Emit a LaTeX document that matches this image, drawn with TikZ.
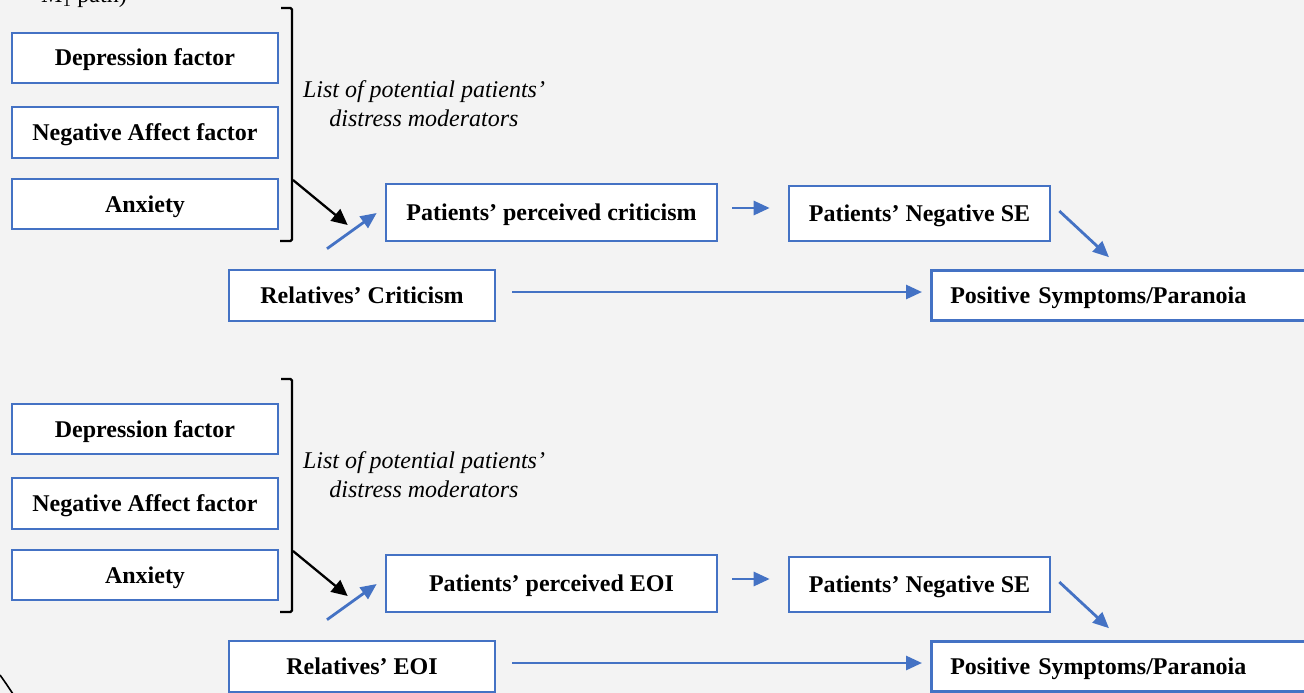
\documentclass[tikz,border=0pt]{standalone}
\usepackage{fontspec}
\setmainfont{Liberation Serif}
\usetikzlibrary{arrows.meta,calc}
\definecolor{pageback}{HTML}{F3F3F3}
\definecolor{boxblue}{HTML}{4472C4}
\begin{document}
\begin{tikzpicture}[x=1pt,y=-1pt,
  box/.style={draw=boxblue, line width=2.6pt, fill=white, inner sep=0pt,
    text height=16pt, text depth=0pt,
    text=black, font=\fontsize{24}{29}\selectfont\bfseries},
  bluearrow/.style={draw=boxblue, line width=2.8pt,
    -{Triangle[length=16pt,width=14pt]}, fill=boxblue},
  blackarrow/.style={draw=black, line width=2.3pt,
    -{Triangle[length=16pt,width=15pt]}},
  bracketline/.style={draw=black, line width=2.2pt, rounded corners=1.5pt},
  note/.style={font=\fontsize{24}{29}\selectfont\itshape, align=center},
]
\fill[pageback] (0,0) rectangle (1304,693);
\useasboundingbox (0,0) rectangle (1304,693);
\clip (0,0) rectangle (1304,693);

% caption fragment running off the top edge
\node[font=\fontsize{24}{29}\selectfont, anchor=base] (cap) at (84,3) {M\textsubscript{1} path)};

% corner of the outer frame
\draw[line width=1.6pt] (0,675) .. controls (5,682) .. (13,694);

\foreach \oy/\p/\midtxt/\reltxt in {0/a/criticism/Criticism, 371/b/EOI/EOI}{
\begin{scope}[yshift=-\oy pt, name prefix=\p-]
  % moderators
  \node[box, minimum width=266pt, minimum height=50pt] (dep) at (145,58) {Depression factor};
  \node[box, minimum width=266pt, minimum height=51pt] (neg) at (145,132.5) {Negative Affect factor};
  \node[box, minimum width=266pt, minimum height=50pt] (anx) at (145,204) {Anxiety};
  \draw[bracketline] (281,8) -- (292,8) -- (292,241) -- (280,241);
  \coordinate (brk) at (293,180);
  \node[note] (lst) at (424,104) {List of potential patients’\\distress moderators};

  % mediation path
  \node[box, minimum width=331pt, minimum height=57pt] (ppc) at (551.5,212.5) {Patients’ perceived \midtxt};
  \node[box, minimum width=261pt, minimum height=55pt] (nse) at (919.5,213.5) {Patients’ Negative SE};
  \node[box, minimum width=266pt, minimum height=51pt] (rc) at (362,295.5) {Relatives’ \reltxt};
  \node[box, anchor=west, minimum height=50pt, text width=372pt, align=left,
        inner xsep=19pt] (pos) at (930,295.5) {Positive Symptoms/Paranoia};

  % connectors
  \draw[blackarrow] (brk) -- ($(ppc.west)+(-37,12.5)$);
  \draw[bluearrow] ($(rc.north)+(-35,-20)$) -- ($(ppc.west)+(-8,0.5)$);
  \draw[bluearrow] ($(ppc.east)+(14,-4.5)$) -- ($(nse.west)+(-18,-5.5)$);
  \draw[bluearrow] ($(nse.east)+(8,-2.5)$) -- ($(pos.north west)+(179,-12)$);
  \draw[bluearrow] ($(rc.east)+(16,-3.5)$) -- ($(pos.west)+(-8,-3.5)$);
\end{scope}
}
\end{tikzpicture}
\end{document}
